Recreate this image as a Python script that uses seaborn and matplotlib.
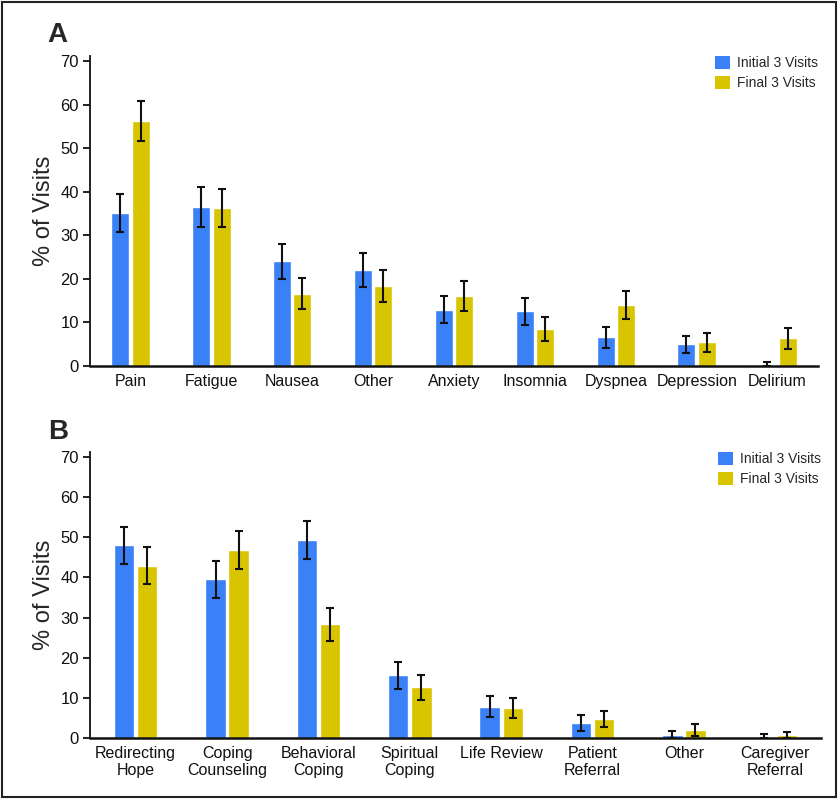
import numpy as np
import pandas as pd
import seaborn as sns
import matplotlib.pyplot as plt
from matplotlib.patches import Patch, Rectangle

# Panel A: symptoms
cats_a = ["Pain", "Fatigue", "Nausea", "Other", "Anxiety", "Insomnia",
          "Dyspnea", "Depression", "Delirium"]
initial_a = [35.1, 36.5, 24.0, 22.1, 12.9, 12.6, 6.6, 5.0, 0.0]
initial_a_err = [4.4, 4.5, 4.0, 3.9, 3.1, 3.1, 2.4, 2.0, 1.0]
final_a = [56.3, 36.3, 16.6, 18.4, 16.0, 8.5, 13.9, 5.4, 6.4]
final_a_err = [4.6, 4.4, 3.5, 3.6, 3.4, 2.7, 3.2, 2.2, 2.4]

# Panel B: coping / interventions
cats_b = ["Redirecting\nHope", "Coping\nCounseling", "Behavioral\nCoping",
          "Spiritual\nCoping", "Life Review", "Patient\nReferral", "Other",
          "Caregiver\nReferral"]
initial_b = [48.0, 39.5, 49.4, 15.6, 7.7, 3.7, 0.75, 0.3]
initial_b_err = [4.6, 4.5, 4.7, 3.4, 2.6, 1.9, 0.9, 0.7]
final_b = [42.9, 46.8, 28.3, 12.6, 7.5, 4.7, 1.9, 0.75]
final_b_err = [4.6, 4.7, 4.2, 3.1, 2.5, 2.0, 1.5, 0.8]

groups = ["Initial 3 Visits", "Final 3 Visits"]
colors = ["#3a80f6", "#d9c400"]

sns.set_style("white")
plt.rcParams["font.family"] = ["Liberation Sans", "DejaVu Sans"]

fig = plt.figure(figsize=(8.39, 7.99), dpi=100)
ax_a = fig.add_axes([0.1073, 0.5419, 0.8677, 0.3884])
ax_b = fig.add_axes([0.1073, 0.0767, 0.8712, 0.3580])


def panel(ax, cats, init, init_err, fin, fin_err, ytop, letter):
    df = pd.DataFrame({
        "category": cats * 2,
        "group": [groups[0]] * len(cats) + [groups[1]] * len(cats),
        "value": init + fin,
    })
    sns.barplot(data=df, x="category", y="value", hue="group",
                order=cats, hue_order=groups, palette=colors,
                width=0.506, gap=0.12, errorbar=None, legend=False,
                saturation=1, ax=ax)
    for cont, vals, errs in zip(ax.containers, [init, fin], [init_err, fin_err]):
        xs = [b.get_x() + b.get_width() / 2 for b in cont]
        lo = [min(e, v) for v, e in zip(vals, errs)]
        ax.errorbar(xs, vals, yerr=[lo, errs], fmt="none", ecolor="#111111",
                    elinewidth=1.5, capsize=2.6, capthick=1.5, zorder=5)
    ax.set_xlim(-0.5, len(cats) - 0.5)
    ax.set_ylim(0, ytop)
    ax.set_yticks(range(0, 71, 10))
    ax.set_xlabel("")
    ax.set_ylabel("% of Visits", fontsize=17, labelpad=4)
    sns.despine(ax=ax)
    ax.spines["left"].set_linewidth(1.3)
    ax.spines["bottom"].set_linewidth(1.8)
    ax.spines["left"].set_color("#111111")
    ax.spines["bottom"].set_color("#111111")
    ax.tick_params(axis="y", direction="out", length=5, width=1.3,
                   labelsize=12, pad=3, colors="#111111", left=True)
    ax.tick_params(axis="x", length=0, labelsize=11.5, pad=6, colors="#111111")
    handles = [Patch(facecolor=c, edgecolor="none") for c in colors]
    ax.legend(handles, groups, loc="upper right", frameon=False,
              fontsize=10, handlelength=1.05, handleheight=1.05,
              handletextpad=0.5, labelspacing=0.45, borderaxespad=0,
              borderpad=0)
    ax.text(-0.058, 1.025, letter, transform=ax.transAxes, fontsize=20,
            fontweight="bold", ha="left", va="bottom")


panel(ax_a, cats_a, initial_a, initial_a_err, final_a, final_a_err, 71.2, "A")
panel(ax_b, cats_b, initial_b, initial_b_err, final_b, final_b_err, 71.4, "B")

fig.patches.append(Rectangle((0.002, 0.003), 0.994, 0.994,
                             transform=fig.transFigure, fill=False,
                             edgecolor="#222222", linewidth=1.5))

fig.savefig("out.png", dpi=100)
